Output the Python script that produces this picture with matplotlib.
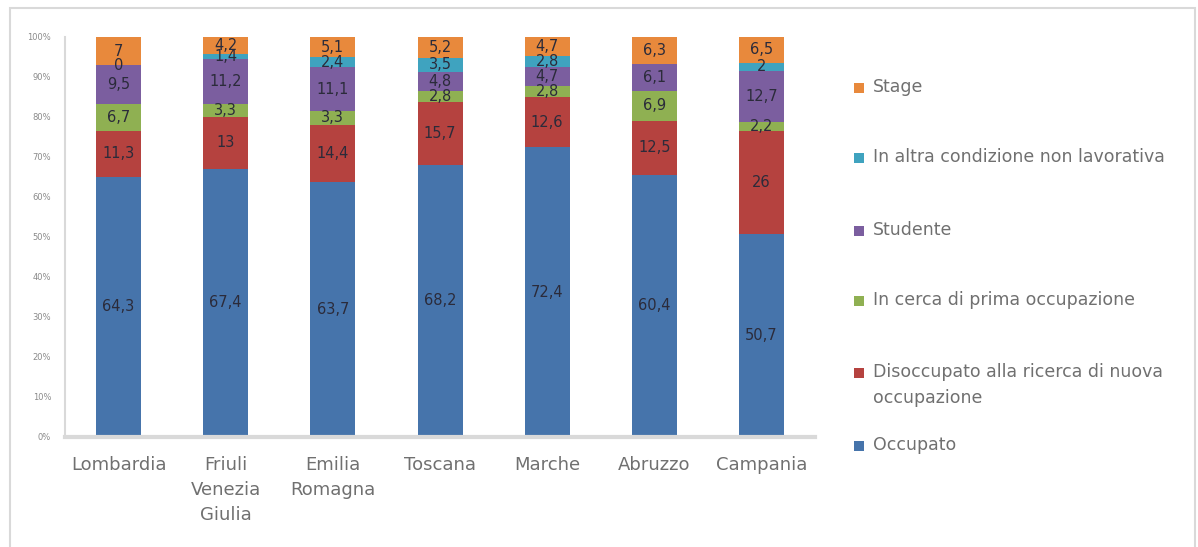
import numpy as np
import matplotlib
matplotlib.use("Agg")
import matplotlib.pyplot as plt
from matplotlib.patches import Rectangle

# ---------------- data ----------------
regions = ["Lombardia", "Friuli\nVenezia\nGiulia", "Emilia\nRomagna", "Toscana",
           "Marche", "Abruzzo", "Campania"]
series_names = ["Occupato",
                "Disoccupato alla ricerca di nuova\noccupazione",
                "In cerca di prima occupazione",
                "Studente",
                "In altra condizione non lavorativa",
                "Stage"]
occupato = [64.3, 67.4, 63.7, 68.2, 72.4, 60.4, 50.7]
disoccupato = [11.3, 13, 14.4, 15.7, 12.6, 12.5, 26]
prima_occupazione = [6.7, 3.3, 3.3, 2.8, 2.8, 6.9, 2.2]
studente = [9.5, 11.2, 11.1, 4.8, 4.7, 6.1, 12.7]
altra_condizione = [0, 1.4, 2.4, 3.5, 2.8, None, 2]
stage = [7, 4.2, 5.1, 5.2, 4.7, 6.3, 6.5]
y_ticks = [0, 10, 20, 30, 40, 50, 60, 70, 80, 90, 100]

colors = ["#4674AB", "#B5423F", "#8FB052", "#7B5E9F", "#3FA3BF", "#E8893C"]

W, H = 1198, 547
fig = plt.figure(figsize=(W / 100, H / 100), dpi=100)
ax = fig.add_axes([65 / W, 1 - 437 / H, 750 / W, 400 / H])

series = [occupato, disoccupato, prima_occupazione, studente, altra_condizione, stage]
arr = np.array([[np.nan if v is None else v for v in s] for s in series], dtype=float)
totals = np.nansum(arr, axis=0)
pct = np.nan_to_num(arr) / totals * 100


def fmt(v):
    return f"{v:g}".replace(".", ",")


x = np.arange(len(regions))
bottom = np.zeros(len(regions))
for i in range(len(series)):
    bars = ax.bar(x, pct[i], 0.42, bottom=bottom, color=colors[i], edgecolor="none")
    labels = ["" if np.isnan(v) else fmt(v) for v in arr[i]]
    ax.bar_label(bars, labels=labels, label_type="center", fontsize=10.5,
                 color="#2b2b3a")
    bottom += pct[i]

ax.set_xlim(-0.5, len(regions) - 0.5)
ax.set_ylim(0, 100)
ax.set_yticks(y_ticks)
ax.set_yticklabels([f"{v}%" for v in y_ticks], fontsize=6, color="#8a8a8a")
ax.set_xticks(x)
ax.set_xticklabels(regions, fontsize=13, color="#707070", linespacing=1.5)
ax.tick_params(axis="y", length=0, pad=10)
ax.tick_params(axis="x", length=0, pad=14)
for s in ["top", "right"]:
    ax.spines[s].set_visible(False)
ax.spines["left"].set_color("#d9d9d9")
ax.spines["left"].set_linewidth(1.5)
ax.spines["bottom"].set_color("#d9d9d9")
ax.spines["bottom"].set_linewidth(3)

# legend (reversed order, Excel style)
legend_y = [88, 158, 231, 301, 373, 446]
order = list(range(len(series)))[::-1]
for k, idx in enumerate(order):
    py = legend_y[k]
    fig.add_artist(Rectangle(((854) / W, 1 - (py + 5) / H), 10 / W, 10 / H,
                             transform=fig.transFigure, color=colors[idx], lw=0))
    fig.text(873 / W, 1 - (py - 10) / H, series_names[idx], fontsize=12.5,
             color="#707070", va="top", ha="left", linespacing=1.6)

# chart border
fig.add_artist(Rectangle((10 / W, -0.01), (1195 - 10) / W, 1 - 8 / H + 0.01,
                         transform=fig.transFigure, fill=False,
                         edgecolor="#d9d9d9", lw=1.5))

fig.savefig("out.png", dpi=100, facecolor="white")
